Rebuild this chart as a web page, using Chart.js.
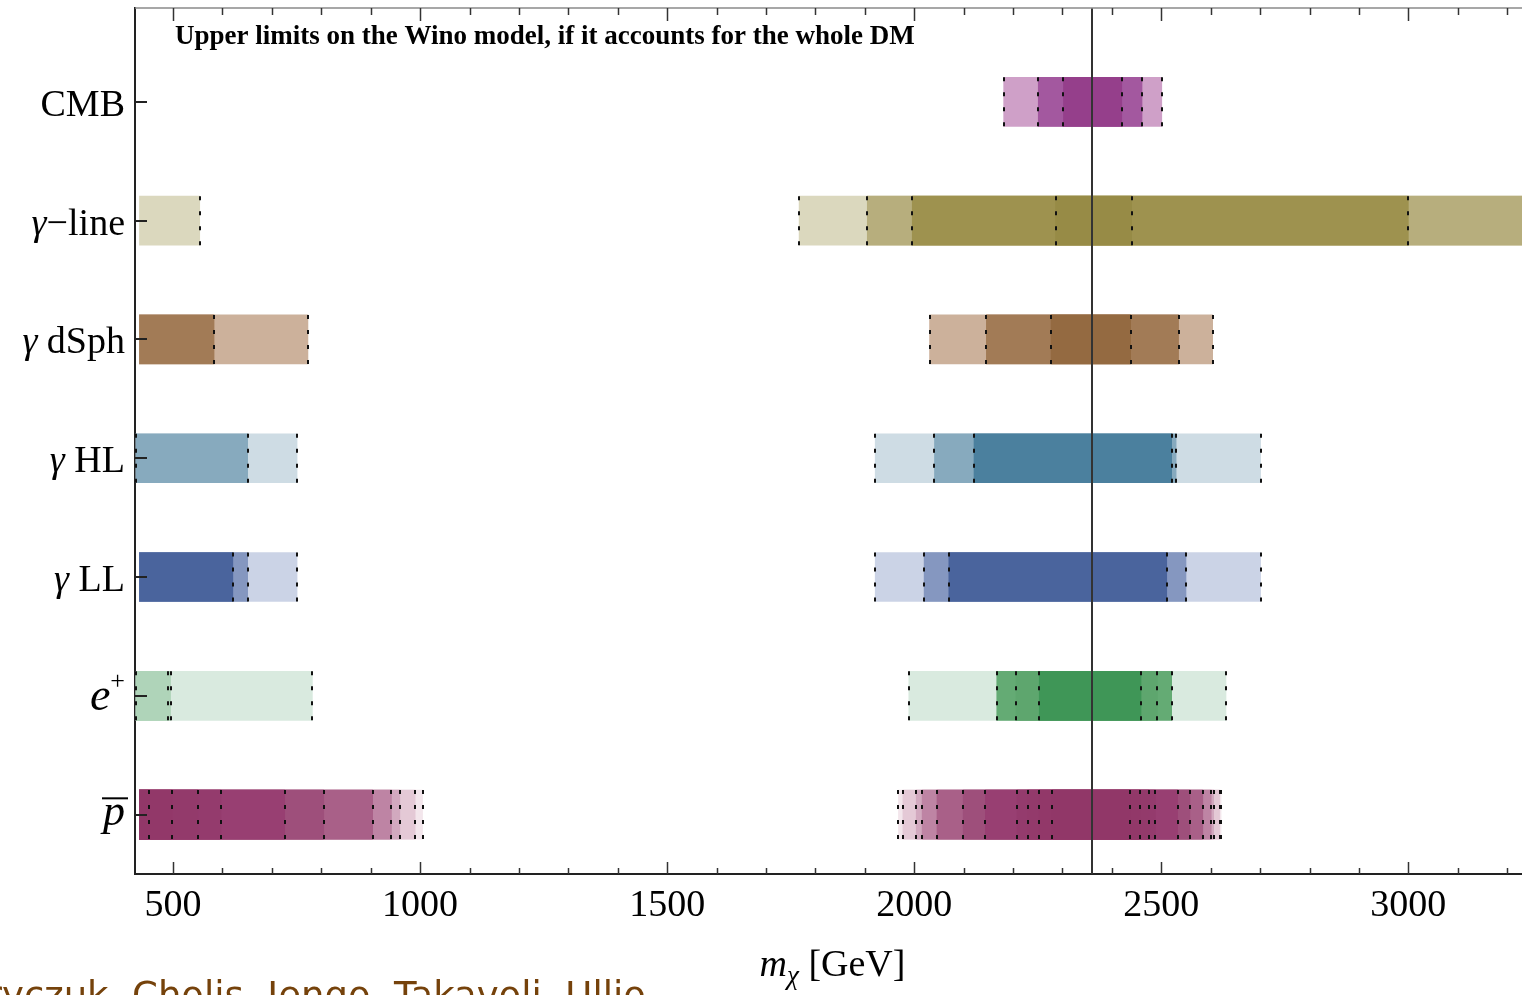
<!DOCTYPE html>
<html>
<head>
<meta charset="utf-8">
<script src="https://cdn.jsdelivr.net/npm/chart.js@4.4.0/dist/chart.umd.min.js"></script>
<style>
html,body{margin:0;padding:0;background:#fff;overflow:hidden}
#wrap{position:relative;width:1522px;height:995px}
</style>
</head>
<body>
<div id="wrap"><canvas id="c"></canvas></div>
<script>
// ================= DATA =================
const rowLabels = ['CMB', 'γ−line', 'γ dSph', 'γ HL', 'γ LL', 'e⁺', 'p̄'];
const xTickLabels = [500, 1000, 1500, 2000, 2500, 3000];
const xMinorStep = 100;
const xRange = [423, 3230];
const winoMass = 2360;          // vertical reference line [GeV]
const scanStart = 432;          // lower end of the scanned mass range
const chartTitle = 'Upper limits on the Wino model, if it accounts for the whole DM';
const xTitle = ['m', 'χ', ' [GeV]'];
const footerText = 'Hryczuk, Cholis, Iengo, Takavoli, Ullio';

// excluded mass windows per probe: [lower GeV, upper GeV, shading level]
const cmbBands = [[2181, 2501, 0], [2251, 2461, 1], [2302, 2420, 2]];
const gammaLineBands = [[432, 554, 0], [1767, 3230, 0], [1905, 3230, 1], [1996, 3000, 2], [2286, 2440, 3]];
const dSphBands = [[432, 773, 0], [432, 583, 1], [2031, 2604, 0], [2146, 2535, 1], [2277, 2438, 2]];
const hlBands = [[425, 751, 0], [425, 651, 1], [1921, 2701, 0], [2041, 2530, 1], [2121, 2521, 2]];
const llBands = [[432, 751, 0], [432, 651, 1], [432, 621, 2], [1921, 2701, 0], [2020, 2550, 1], [2070, 2511, 2]];
const ePlusBands = [[425, 782, 0], [425, 495, 1], [425, 490, 1], [1989, 2631, 0], [2167, 2521, 2], [2206, 2492, 3], [2253, 2459, 4]];
const pbarBands = [
  [432, 1005, 0], [432, 990, 1], [432, 959, 2], [432, 942, 3], [432, 904, 4], [432, 805, 5],
  [432, 726, 6], [432, 597, 7], [432, 550, 8], [432, 498, 9], [432, 452, 10],
  [1968, 2621, 0], [1977, 2618, 1], [2004, 2606, 2], [2016, 2601, 3], [2046, 2584, 4], [2099, 2558, 5],
  [2144, 2533, 6], [2208, 2488, 7], [2230, 2475, 8], [2253, 2457, 9], [2279, 2437, 10]
];
const rowBands = [cmbBands, gammaLineBands, dSphBands, hlBands, llBands, ePlusBands, pbarBands];

// ================= STYLE =================
const palettes = [
  ['#CFA0C8', '#A3589F', '#953F8B'],
  ['#DBD8BE', '#B7AE7D', '#9E924F', '#978B46'],
  ['#CCB19B', '#A27B56', '#946A41'],
  ['#CEDCE4', '#87AABE', '#4B809E'],
  ['#CBD3E6', '#8597C0', '#4A649D'],
  ['#D9EADF', '#AFD4B9', '#64AB74', '#5EA66E', '#3F9657'],
  ['#F3E6EC', '#E4C9D6', '#D2A9BF', '#BE84A4', '#A96088', '#9E4F7B', '#983F72', '#943B6D', '#933A6B', '#923869', '#913768']
];
const BAR_PX = 49;
const SERIF = '"Liberation Serif", "DejaVu Serif", serif';
const labelParts = {
  'CMB': [{t: 'CMB', s: 38}],
  'γ−line': [{t: 'γ', s: 38, i: true}, {t: '−line', s: 38}],
  'γ dSph': [{t: 'γ', s: 38, i: true}, {t: ' dSph', s: 38}],
  'γ HL': [{t: 'γ', s: 38, i: true}, {t: ' HL', s: 38}],
  'γ LL': [{t: 'γ', s: 38, i: true}, {t: ' LL', s: 38}],
  'e⁺': [{t: 'e', s: 46, i: true}, {t: '+', s: 26, dy: -21}],
  'p̄': [{t: 'p', s: 44, i: true, over: true, dy: -4}]
};

const datasets = rowBands.map((bands, row) => ({
  label: rowLabels[row],
  data: bands.map(b => ({x: [b[0], b[1]], y: row, level: b[2]})),
  backgroundColor: ctx => palettes[row][ctx.raw ? ctx.raw.level : 0],
  borderWidth: 0,
  barThickness: BAR_PX,
  grouped: false
}));

const decorPlugin = {
  id: 'decor',
  afterDatasetsDraw(chart) {
    const ctx = chart.ctx, xs = chart.scales.x, ys = chart.scales.y, ca = chart.chartArea;
    ctx.save();
    ctx.beginPath(); ctx.rect(ca.left, ca.top, ca.right - ca.left, ca.bottom - ca.top); ctx.clip();
    // dashed limit markers
    ctx.strokeStyle = '#111'; ctx.lineWidth = 2; ctx.setLineDash([4, 11]);
    rowBands.forEach((bands, row) => {
      const yc = ys.getPixelForValue(row);
      const t = yc - BAR_PX / 2, b = yc + BAR_PX / 2;
      const marks = new Set();
      bands.forEach(bd => {
        if (bd[0] !== scanStart) marks.add(bd[0]);
        if (bd[1] < xRange[1]) marks.add(bd[1]);
      });
      marks.forEach(v => {
        const x = Math.round(xs.getPixelForValue(v));
        ctx.beginPath(); ctx.moveTo(x, t); ctx.lineTo(x, b); ctx.stroke();
      });
    });
    ctx.setLineDash([]);
    // reference mass line
    const xw = Math.round(xs.getPixelForValue(winoMass));
    ctx.strokeStyle = '#333'; ctx.lineWidth = 2;
    ctx.beginPath(); ctx.moveTo(xw, ca.top); ctx.lineTo(xw, ca.bottom); ctx.stroke();
    ctx.restore();
  },
  afterDraw(chart) {
    const ctx = chart.ctx, xs = chart.scales.x, ys = chart.scales.y, ca = chart.chartArea;
    ctx.save();
    // top frame line
    ctx.strokeStyle = '#8a8a8a'; ctx.lineWidth = 1.5;
    ctx.beginPath(); ctx.moveTo(ca.left, ca.top); ctx.lineTo(ca.right, ca.top); ctx.stroke();
    // x tick marks (inward, top and bottom)
    ctx.strokeStyle = '#333'; ctx.lineWidth = 1.5;
    const first = Math.ceil(xRange[0] / xMinorStep) * xMinorStep;
    for (let v = first; v <= xRange[1]; v += xMinorStep) {
      const x = Math.round(xs.getPixelForValue(v)) + 0.5;
      const len = xTickLabels.includes(v) ? 12 : 6;
      ctx.beginPath(); ctx.moveTo(x, ca.bottom); ctx.lineTo(x, ca.bottom - len); ctx.stroke();
      ctx.beginPath(); ctx.moveTo(x, ca.top); ctx.lineTo(x, ca.top + len + 1); ctx.stroke();
    }
    // y tick marks (inward)
    ctx.lineWidth = 2; ctx.strokeStyle = '#222';
    ys.ticks.forEach(tk => {
      const y = Math.round(ys.getPixelForValue(tk.value));
      ctx.beginPath(); ctx.moveTo(ca.left, y); ctx.lineTo(ca.left + 12, y); ctx.stroke();
    });
    // y labels
    ctx.fillStyle = '#000'; ctx.textBaseline = 'alphabetic'; ctx.textAlign = 'left';
    rowLabels.forEach((lab, row) => {
      const parts = labelParts[lab] || [{t: lab, s: 38}];
      const yc = ys.getPixelForValue(row);
      let w = 0;
      parts.forEach(p => { ctx.font = (p.i ? 'italic ' : '') + p.s + 'px ' + SERIF; p.w = ctx.measureText(p.t).width; w += p.w; });
      let x = ca.left - 10 - w;
      parts.forEach(p => {
        ctx.font = (p.i ? 'italic ' : '') + p.s + 'px ' + SERIF;
        const by = yc + 14 + (p.dy || 0);
        ctx.fillText(p.t, x, by);
        if (p.over) {
          ctx.fillRect(x - 1, by - p.s * 0.62, p.w + 4, 2);
        }
        x += p.w;
      });
    });
    // title inside plot
    ctx.font = 'bold 27px ' + SERIF;
    ctx.fillText(chartTitle, ca.left + 40, 44);
    // x axis title
    const fM = 'italic 38px ' + SERIF, fSub = 'italic 27px ' + SERIF, fR = '38px ' + SERIF;
    ctx.font = fM; const w1 = ctx.measureText(xTitle[0]).width;
    ctx.font = fSub; const w2 = ctx.measureText(xTitle[1]).width;
    ctx.font = fR; const w3 = ctx.measureText(xTitle[2]).width;
    let tx = (ca.left + ca.right) / 2 + 4 - (w1 + w2 + w3) / 2;
    const ty = 976;
    ctx.font = fM; ctx.fillText(xTitle[0], tx, ty); tx += w1;
    ctx.font = fSub; ctx.fillText(xTitle[1], tx, ty + 8); tx += w2;
    ctx.font = fR; ctx.fillText(xTitle[2], tx, ty);
    // footer (slide credit, partly cut)
    ctx.font = '37px "DejaVu Sans", sans-serif';
    ctx.fillStyle = '#75420b';
    const pre = ctx.measureText('Hr').width;
    ctx.fillText(footerText, 2 - pre, 1008);
    ctx.restore();
  }
};

new Chart(document.getElementById('c'), {
  type: 'bar',
  data: {datasets},
  options: {
    indexAxis: 'y',
    responsive: true,
    maintainAspectRatio: false,
    animation: false,
    events: [],
    layout: {padding: {top: 8, right: 0, left: 0, bottom: 0}},
    plugins: {legend: {display: false}, tooltip: {enabled: false}, title: {display: false}},
    scales: {
      x: {
        type: 'linear', position: 'bottom', min: xRange[0], max: xRange[1], offset: false,
        afterBuildTicks: s => { s.ticks = xTickLabels.map(v => ({value: v})); },
        afterFit: s => { s.height = 121; },
        grid: {display: true, drawOnChartArea: false, drawTicks: false},
        border: {display: true, color: '#222', width: 2},
        ticks: {color: '#000', padding: 9, font: {family: SERIF, size: 38}, autoSkip: false, maxRotation: 0,
                callback: v => String(v)}
      },
      y: {
        type: 'linear', position: 'left', reverse: true, min: -0.79, max: 6.5, offset: false,
        afterBuildTicks: s => { s.ticks = rowLabels.map((_, i) => ({value: i})); },
        afterFit: s => { s.width = 135; },
        grid: {display: true, drawOnChartArea: false, drawTicks: false, offset: false},
        border: {display: true, color: '#222', width: 2},
        ticks: {display: false}
      }
    }
  },
  plugins: [decorPlugin]
});
</script>
</body>
</html>
